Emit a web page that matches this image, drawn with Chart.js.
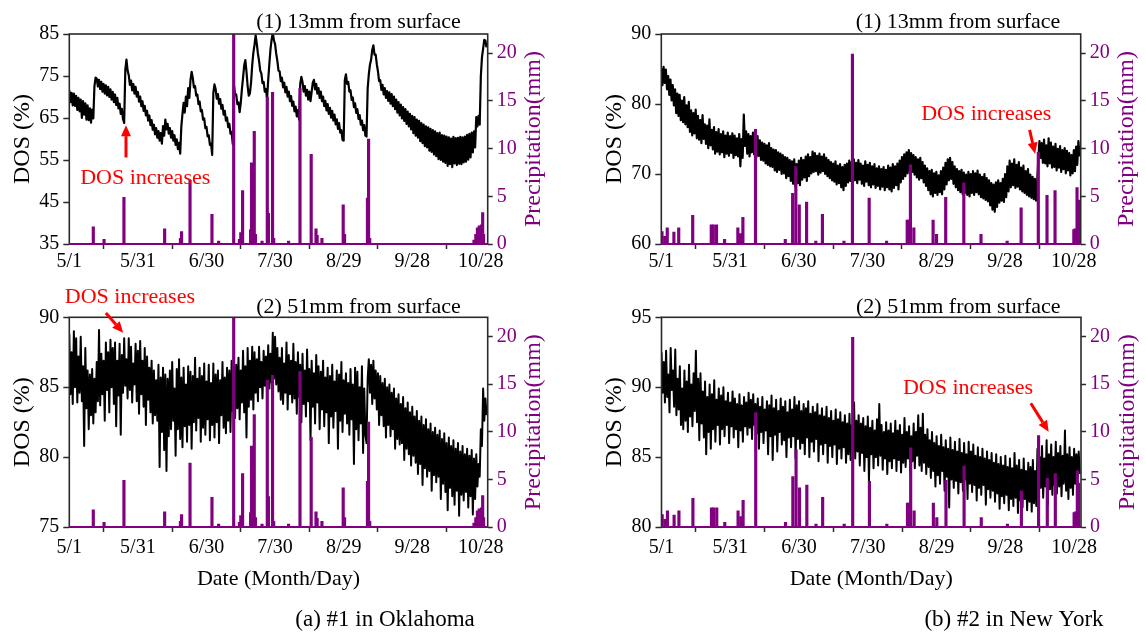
<!DOCTYPE html>
<html>
<head>
<meta charset="utf-8">
<script src="https://cdn.jsdelivr.net/npm/chart.js@4.4.1/dist/chart.umd.min.js"></script>
<style>
  html, body { margin: 0; padding: 0; background: #fff; }
  #fig { position: relative; width: 1146px; height: 640px; overflow: hidden; background: #fff; }
  #fig canvas { position: absolute; }
</style>
</head>
<body>
<div id="fig">
  <canvas id="okTop" width="573" height="282" style="left:0;top:0"></canvas>
  <canvas id="nyTop" width="554" height="282" style="left:592px;top:0"></canvas>
  <canvas id="okBot" width="573" height="358" style="left:0;top:282px"></canvas>
  <canvas id="nyBot" width="554" height="358" style="left:592px;top:282px"></canvas>
</div>
<script>
// Days counted from May 1; x-axis ticks every 30 days
const dayTicks = [0, 30, 60, 90, 120, 150, 180];
const dayTickLabels = ['5/1', '5/31', '6/30', '7/30', '8/29', '9/28', '10/28'];
const DAY_MAX = 183;

// Degree of saturation is logged twice per day (daily high, daily low)
const READINGS_PER_DAY = 2;

// Oklahoma site, 13 mm depth
const okDos13 = [
71.6,68.8, 71.0,68.0, 70.8,67.9, 70.3,66.9, 69.8,66.6, 69.4,65.0, 69.0,65.8, 68.5,64.6, 68.0,64.5, 67.3,63.9,
67.0,64.9, 72.6,74.6, 74.4,72.5, 74.1,71.9, 73.6,71.3, 73.1,70.8, 72.8,70.4, 72.4,70.0, 71.8,69.4, 71.2,68.8,
70.6,68.1, 69.8,67.3, 68.4,66.0, 67.2,64.7, 63.8,76.5, 78.9,76.3, 75.2,72.9, 73.9,71.6, 73.1,70.8, 72.4,70.1,
71.2,68.9, 70.1,67.8, 69.0,66.7, 67.9,65.6, 66.7,64.4, 65.6,63.3, 64.5,62.2, 63.4,61.1, 62.6,60.3, 61.9,59.6,
61.4,58.9, 63.1,60.8, 64.6,62.3, 63.6,61.3, 62.6,60.3, 61.9,59.6, 60.9,58.6, 59.9,57.6, 59.1,56.5, 63.0,66.0,
68.6,66.3, 70.1,67.8, 72.1,69.8, 74.0,76.0, 74.6,72.3, 72.6,70.3, 70.6,68.3, 68.9,66.6, 66.9,64.6, 64.9,62.6,
62.9,60.6, 60.9,58.6, 58.9,56.2, 71.0,73.0, 71.9,69.6, 70.7,68.4, 69.5,67.2, 68.1,65.8, 66.7,64.4, 65.1,62.8,
63.6,61.3, 61.6,58.8, 72.9,70.5, 70.6,68.3, 68.7,66.4, 68.6,71.9, 74.6,77.5, 78.8,76.0, 72.6,70.3, 70.9,73.4,
77.6,80.5, 82.4,84.7, 82.7,80.3, 78.6,76.3, 75.6,73.3, 73.6,71.3, 71.9,69.6, 74.1,77.9, 81.4,83.7, 85.3,83.5,
82.6,80.3, 78.6,76.3, 76.1,73.8, 74.6,72.3, 73.4,71.1, 72.4,70.1, 71.3,69.0, 70.2,67.9, 68.9,66.6, 67.7,65.4,
66.9,64.6, 73.1,74.8, 73.6,71.3, 72.6,70.3, 71.7,69.4, 71.3,69.0, 71.2,73.4, 74.1,71.8, 73.1,70.8, 72.1,69.8,
71.3,69.0, 70.1,67.8, 69.1,66.8, 68.3,66.0, 67.4,65.1, 66.7,64.4, 65.8,63.5, 64.7,62.4, 63.8,61.5, 62.1,59.8,
59.6,74.0, 75.4,73.1, 73.6,71.3, 71.6,69.3, 69.9,67.6, 68.5,66.2, 67.1,64.8, 65.7,63.4, 64.4,62.1, 63.3,60.8,
60.6,72.0, 75.4,77.7, 78.9,81.2, 82.3,80.1, 80.1,77.8, 76.1,73.8, 74.0,71.7, 72.9,70.6, 72.1,69.8, 71.4,69.1,
71.1,68.4, 70.7,67.8, 70.1,67.1, 69.4,66.3, 68.8,65.6, 68.2,64.9, 67.6,64.3, 67.1,63.6, 66.5,63.0, 66.0,62.3,
65.5,61.4, 65.2,60.8, 64.6,60.3, 64.3,59.5, 63.8,59.0, 63.4,58.3, 63.0,58.0, 62.8,57.2, 62.4,56.9, 62.1,56.3,
61.8,55.9, 61.4,55.2, 61.5,55.0, 60.9,54.6, 60.8,54.3, 60.6,53.6, 60.4,54.0, 60.1,53.3, 60.5,54.2, 60.2,53.8,
60.3,54.1, 60.5,54.0, 60.4,54.4, 60.6,54.6, 61.0,55.1, 61.2,55.6, 61.5,56.8, 61.8,58.0, 65.2,63.0, 65.5,63.4,
75.0,79.5, 81.5,83.6, 83.4,81.8
];

// Oklahoma site, 51 mm depth
const okDos51 = [
88.8,84.5, 87.5,83.8, 89.0,85.0, 88.5,83.9, 87.2,84.6, 88.6,84.0, 86.5,80.8, 87.8,83.5, 86.2,82.0, 85.9,83.0,
86.3,82.4, 85.6,83.2, 86.8,84.0, 89.1,83.7, 87.4,84.5, 86.9,82.6, 88.2,84.8, 87.5,83.2, 88.4,85.0, 87.8,83.8,
88.2,82.2, 86.9,84.4, 88.1,81.6, 87.3,84.6, 88.5,85.1, 87.0,84.2, 88.5,84.8, 87.9,83.9, 86.7,85.2, 88.1,84.0,
87.6,83.1, 88.3,84.5, 86.9,83.6, 87.8,82.3, 87.2,84.1, 86.4,83.2, 86.9,82.4, 86.2,83.0, 85.5,82.6, 86.6,79.3,
85.7,81.8, 86.4,80.5, 85.9,79.0, 85.6,81.5, 86.2,82.0, 86.8,82.6, 84.9,80.1, 86.3,82.0, 87.0,81.3, 85.7,80.7,
86.4,82.2, 85.2,81.1, 86.5,82.3, 86.1,80.6, 85.8,82.5, 87.1,81.9, 85.6,82.8, 86.4,81.1, 85.8,82.1, 86.7,81.6,
85.4,82.7, 86.6,81.2, 85.3,82.3, 86.7,81.4, 85.9,82.5, 86.2,81.0, 85.5,83.0, 86.8,82.1, 85.7,81.7, 86.4,82.6,
86.2,81.8, 86.9,83.3, 85.8,82.8, 86.6,83.5, 87.1,82.7, 86.2,83.9, 87.6,83.2, 86.5,81.4, 87.8,83.6, 86.9,84.1,
87.9,83.4, 87.5,84.6, 87.0,84.0, 87.9,85.0, 86.8,84.2, 87.6,85.1, 87.2,84.4, 88.0,84.9, 87.4,85.3, 88.9,85.6,
88.6,85.2, 87.8,84.7, 87.1,84.1, 87.8,83.8, 86.7,84.6, 88.2,83.4, 87.3,84.5, 86.9,83.9, 88.1,84.2, 86.8,83.1,
87.5,84.3, 86.6,82.5, 87.4,83.8, 86.2,82.9, 87.7,84.0, 86.3,81.2, 86.9,83.6, 86.0,82.4, 87.3,83.9, 86.5,82.0,
86.1,83.4, 86.9,82.2, 85.7,83.2, 86.4,81.0, 85.8,82.9, 86.6,82.1, 85.4,83.3, 86.2,80.6, 85.9,82.6, 86.8,81.8,
85.5,83.1, 86.0,82.4, 85.3,81.6, 86.3,82.7, 85.2,79.5, 86.4,82.0, 86.1,81.2, 85.0,82.4, 86.5,80.3, 84.9,81.6,
81.0,85.6, 87.0,84.6, 86.6,83.8, 86.9,84.2, 86.2,83.4, 86.0,82.3, 85.8,83.0, 85.3,82.2, 85.6,81.4, 85.0,82.3,
85.2,81.5, 84.6,82.0, 84.9,80.6, 84.2,81.3, 84.5,80.9, 83.8,81.0, 84.3,79.8, 83.5,80.6, 83.9,80.2, 83.2,79.4,
83.6,80.1, 82.9,79.6, 83.3,78.8, 82.6,79.5, 82.9,78.0, 82.3,79.2, 82.7,78.6, 82.0,79.0, 82.4,77.6, 81.8,78.7,
82.1,78.2, 81.6,78.6, 81.9,77.0, 81.3,78.1, 81.7,77.5, 81.0,76.2, 81.4,77.8, 80.8,77.2, 81.2,76.6, 80.6,77.6,
81.0,75.8, 80.4,77.3, 80.8,76.9, 80.2,77.5, 80.6,76.4, 80.1,77.2, 80.5,75.9, 79.9,77.0, 80.2,77.9, 79.5,78.6,
82.0,80.8, 84.9,82.6, 84.2,83.0
];

// New York site, 13 mm depth
const nyDos13 = [
85.1,82.7, 85.3,83.0, 84.9,82.1, 84.0,81.3, 83.5,80.5, 82.7,79.8, 82.1,78.7, 81.5,78.3, 81.3,77.7, 80.5,77.4,
81.0,77.1, 79.8,76.7, 80.3,76.0, 79.1,75.5, 78.7,75.8, 79.2,75.1, 78.3,74.9, 77.7,74.4, 78.4,75.0, 77.1,74.3,
76.9,73.7, 77.8,74.1, 76.3,73.5, 76.7,72.9, 76.0,73.2, 76.4,72.8, 75.7,73.1, 76.1,72.4, 75.5,72.9, 75.9,72.6,
75.4,73.0, 75.8,72.3, 75.5,72.7, 75.1,72.5, 75.7,71.1, 75.0,72.3, 78.5,74.0, 76.1,72.9, 75.7,72.5, 75.4,73.1,
75.9,72.8, 75.2,72.4, 75.4,72.6, 74.8,72.0, 74.5,71.9, 74.3,71.5, 74.1,71.3, 74.4,71.1, 73.7,71.0, 73.5,70.5,
73.4,70.3, 73.1,70.6, 72.9,70.0, 72.7,70.1, 72.4,69.4, 72.3,69.7, 72.0,69.0, 71.8,68.6, 72.1,68.2, 71.4,68.7,
71.9,68.4, 72.3,69.2, 72.0,69.5, 72.5,69.0, 72.8,69.7, 72.4,70.1, 73.2,70.3, 73.0,70.4, 72.6,69.9, 72.9,70.2,
72.5,70.4, 72.8,70.0, 72.3,69.7, 72.0,69.4, 71.7,69.1, 71.5,68.9, 71.8,68.5, 71.2,68.7, 71.4,68.1, 71.0,67.7,
71.3,68.3, 71.5,68.8, 71.9,69.0, 71.7,68.5, 72.1,69.1, 71.6,68.7, 72.0,69.2, 71.5,68.6, 71.2,68.3, 71.8,68.9,
71.3,68.4, 71.6,68.1, 71.1,68.5, 71.4,68.0, 70.8,68.3, 71.1,67.8, 70.7,68.2, 71.0,67.7, 70.6,68.1, 71.2,67.8,
70.9,67.5, 71.4,68.0, 71.1,68.4, 71.5,67.8, 71.9,68.8, 72.4,69.3, 72.8,69.7, 73.1,70.1, 73.4,70.4, 73.0,70.3,
72.7,69.9, 72.4,69.5, 72.1,69.2, 72.3,69.4, 71.7,68.8, 71.2,68.3, 70.8,67.7, 70.4,67.1, 70.6,66.8, 70.1,67.3,
70.3,67.0, 69.8,67.4, 70.4,67.1, 70.9,67.8, 71.6,68.5, 72.1,69.1, 72.3,69.3, 71.7,68.6, 71.1,68.1, 70.7,67.7,
70.4,67.4, 70.6,67.1, 70.2,67.3, 69.9,67.0, 70.3,66.8, 70.0,67.3, 70.4,67.0, 70.1,67.4, 70.5,67.1, 69.9,66.7,
69.6,66.5, 70.0,66.3, 69.4,66.1, 69.1,65.5, 68.7,64.9, 68.5,64.6, 68.8,65.3, 69.1,65.9, 68.7,66.2, 69.3,66.0,
70.0,66.7, 71.1,67.5, 71.9,68.1, 71.5,68.4, 72.1,68.0, 71.3,68.2, 71.7,67.8, 70.9,67.5, 71.2,67.3, 70.4,67.0,
70.7,66.8, 69.9,66.6, 69.6,66.4, 69.3,66.2, 68.9,72.0, 74.7,72.3, 74.4,71.6, 74.9,71.5, 74.1,71.1, 75.1,71.5,
74.5,70.9, 73.9,71.0, 74.3,70.5, 73.6,70.9, 74.0,70.3, 73.4,70.7, 73.7,70.1, 73.3,70.5, 73.0,69.8, 72.7,70.1,
73.4,70.4, 73.9,71.3, 74.7,72.5
];

// New York site, 51 mm depth
const nyDos51 = [
92.5,89.6, 91.8,88.9, 92.6,89.3, 90.9,88.2, 92.8,89.8, 91.2,88.6, 92.7,88.0, 90.6,88.4, 91.5,87.3, 89.9,87.0,
91.2,87.6, 90.4,86.8, 91.6,87.9, 90.2,87.2, 91.0,88.3, 92.6,87.5, 90.6,86.2, 91.0,87.4, 89.7,86.4, 90.4,85.2,
89.3,86.8, 90.2,85.6, 89.5,87.0, 90.5,86.1, 89.1,87.3, 89.9,85.9, 89.4,87.0, 90.0,86.5, 89.0,87.3, 89.6,86.0,
88.9,87.2, 89.7,86.4, 89.2,87.0, 88.8,85.7, 89.5,86.9, 88.7,86.1, 89.3,87.2, 88.9,86.6, 89.6,87.1, 89.1,86.3,
89.5,87.3, 88.8,86.7, 89.2,85.6, 88.6,86.8, 89.3,86.0, 88.4,86.9, 89.0,85.2, 88.7,86.5, 89.4,84.8, 88.5,86.6,
89.1,85.4, 88.3,86.8, 89.2,85.9, 88.6,86.2, 89.0,85.0, 88.2,86.4, 89.1,85.7, 88.4,86.5, 89.3,84.9, 88.7,86.3,
89.0,85.6, 88.3,86.0, 88.8,85.2, 88.5,86.4, 89.0,85.0, 88.1,86.1, 88.6,85.4, 88.2,86.3, 88.8,84.7, 88.0,85.9,
88.5,85.2, 87.9,86.0, 88.6,84.6, 87.8,85.8, 88.3,85.0, 87.6,85.9, 88.4,84.5, 87.7,85.6, 88.2,84.9, 87.5,85.7,
88.0,84.6, 87.4,85.2, 88.1,84.8, 87.3,85.5, 88.9,84.9, 87.6,85.4, 88.0,84.4, 87.4,85.3, 87.8,84.0, 87.2,85.0,
87.9,83.3, 87.1,85.2, 87.6,84.2, 86.9,85.0, 87.7,84.4, 88.8,85.1, 87.3,84.1, 86.8,84.9, 87.5,83.8, 86.9,84.7,
87.4,84.2, 86.7,84.9, 87.6,84.0, 86.9,84.8, 87.3,83.9, 86.6,84.6, 87.8,84.3, 86.8,84.9, 87.2,83.9, 86.5,84.7,
87.4,84.2, 86.8,85.1, 88.0,84.4, 87.1,84.0, 88.1,84.6, 86.6,83.8, 87.0,84.3, 86.2,83.5, 86.8,84.0, 86.0,82.9,
86.5,83.7, 85.8,83.1, 86.6,84.0, 85.7,82.6, 86.2,83.6, 85.6,81.4, 86.4,83.4, 85.5,82.8, 86.1,83.3, 85.4,82.4,
86.3,83.2, 85.3,82.6, 86.0,83.4, 85.2,82.0, 86.1,83.1, 85.4,82.5, 85.9,83.0, 85.1,81.9, 85.7,82.8, 85.0,82.3,
85.6,83.0, 84.9,81.6, 85.4,82.7, 84.8,82.1, 85.3,82.6, 84.6,81.8, 85.2,82.4, 84.5,81.3, 85.0,82.2, 84.4,81.7,
85.1,82.3, 84.3,81.2, 84.9,82.0, 84.2,81.5, 85.3,82.1, 84.4,81.0, 84.8,81.9, 84.1,81.4, 84.9,82.0, 84.0,81.2,
84.6,81.8, 84.3,81.1, 84.8,81.7, 84.0,81.5, 85.6,82.3, 85.0,82.8, 85.8,82.1, 84.9,82.9, 86.2,81.6, 85.2,82.7,
85.9,82.3, 85.0,83.0, 86.1,82.4, 85.3,82.9, 85.8,82.2, 85.1,83.1, 86.9,82.6, 85.2,82.0, 85.7,82.8, 85.0,82.3,
85.6,83.1, 85.2,83.6, 85.4,83.8
];

// Rain events (day after May 1, amount in mm)
const okRainDay = [10.5, 15.2, 23.9, 41.7, 48.6, 49.1, 52.8, 62.4, 65.3, 71.9, 74.4, 75.0, 75.8, 79.3, 79.7, 80.3, 80.9, 81.4,
  84.3, 86.6, 87.1, 88.9, 89.4, 95.9, 100.9, 105.8, 107.9, 108.4, 110.5, 119.8, 120.4, 130.4, 130.9, 131.4,
  177.0, 177.8, 178.5, 179.3, 179.9, 180.3, 180.8, 181.2];
const okRainMm = [1.8, 0.5, 4.9, 1.6, 0.6, 1.3, 6.7, 3.1, 0.3, 22.0, 0.5, 1.2, 5.6, 1.5, 8.5, 4.0, 11.8, 1.0,
  0.3, 15.4, 3.2, 15.9, 0.6, 0.3, 16.3, 9.4, 1.6, 0.9, 0.6, 4.1, 1.0, 4.8, 11.0, 0.6,
  0.4, 1.0, 1.7, 1.9, 1.2, 2.0, 3.3, 1.0];

const nyRainDay = [0.3, 1.5, 2.6, 5.5, 7.6, 13.7, 21.8, 22.7, 24.1, 27.6, 33.4, 34.6, 35.6, 41.1, 54.1, 57.3, 58.7, 60.2,
  63.4, 67.4, 70.3, 79.7, 83.4, 90.7, 98.3, 107.3, 107.8, 108.7, 110.2, 118.6, 120.1, 124.1, 132.0, 139.5,
  150.9, 157.0, 164.5, 168.3, 171.8, 180.0, 180.6, 181.4, 182.0];
const nyRainMm = [1.3, 0.8, 1.7, 1.25, 1.7, 3.0, 2.0, 2.0, 2.0, 0.5, 1.7, 1.1, 2.8, 12.0, 0.5, 5.3, 8.1, 4.1,
  4.4, 0.3, 3.1, 0.3, 19.9, 4.8, 0.3, 2.5, 2.5, 8.3, 1.7, 2.5, 1.0, 4.9, 6.4, 1.0,
  0.3, 3.8, 9.6, 5.1, 5.6, 1.5, 1.6, 5.9, 4.6];

// Axis ticks
const okTopDosTicks = [35, 45, 55, 65, 75, 85];
const nyTopDosTicks = [60, 70, 80, 90];
const okBotDosTicks = [75, 80, 85, 90];
const nyBotDosTicks = [80, 85, 90, 95];
const rainTicks = [0, 5, 10, 15, 20];
const RAIN_MAX = 22;

const SERIF = '"Liberation Serif", "Times New Roman", serif';
const PURPLE = '#800080';
const FRAME = '#2a2a2a';
const RED = '#ff0000';

function dosPoints(values) {
  return values.map((v, i) => ({ x: i / READINGS_PER_DAY, y: v }));
}
function rainPoints(days, mm) {
  return days.map((d, i) => ({ x: d, y: mm[i] }));
}

function verticalText(ctx, text, x, y, color, size) {
  ctx.save();
  ctx.translate(x, y);
  ctx.rotate(-Math.PI / 2);
  ctx.font = `${size}px ${SERIF}`;
  ctx.fillStyle = color;
  ctx.textAlign = 'center';
  ctx.textBaseline = 'middle';
  ctx.fillText(text, 0, 0);
  ctx.restore();
}

function drawArrow(ctx, x1, y1, x2, y2) {
  const ang = Math.atan2(y2 - y1, x2 - x1);
  const headLen = 11, headHalf = 5;
  const bx = x2 - headLen * Math.cos(ang), by = y2 - headLen * Math.sin(ang);
  ctx.strokeStyle = RED;
  ctx.lineWidth = 3;
  ctx.beginPath();
  ctx.moveTo(x1, y1);
  ctx.lineTo(bx, by);
  ctx.stroke();
  ctx.fillStyle = RED;
  ctx.beginPath();
  ctx.moveTo(x2, y2);
  ctx.lineTo(bx + headHalf * Math.sin(ang), by - headHalf * Math.cos(ang));
  ctx.lineTo(bx - headHalf * Math.sin(ang), by + headHalf * Math.cos(ang));
  ctx.closePath();
  ctx.fill();
}

// Frame, zero-rain line, panel titles, axis titles and the "DOS increases" notes
const panelDecor = {
  id: 'panelDecor',
  afterDraw(chart, args, o) {
    const { ctx, chartArea: a, scales } = chart;
    ctx.save();
    ctx.strokeStyle = FRAME;
    ctx.lineWidth = 1.6;
    ctx.strokeRect(a.left, a.top, a.right - a.left, a.bottom - a.top);

    const y0 = scales.y2.getPixelForValue(0);
    ctx.strokeStyle = PURPLE;
    ctx.lineWidth = 2;
    ctx.beginPath();
    ctx.moveTo(a.left, y0);
    ctx.lineTo(a.right, y0);
    ctx.stroke();

    ctx.fillStyle = '#000';
    ctx.textAlign = 'center';
    ctx.textBaseline = 'alphabetic';
    ctx.font = `22px ${SERIF}`;
    ctx.fillText(o.title, o.titleX, o.titleY);
    if (o.xTitle) {
      ctx.fillText(o.xTitle, (a.left + a.right) / 2, a.bottom + 57.5);
    }
    if (o.caption) {
      ctx.font = `23px ${SERIF}`;
      ctx.fillText(o.caption, o.captionX, a.bottom + 99);
    }

    const midY = (a.top + a.bottom) / 2;
    verticalText(ctx, 'DOS (%)', a.left - 47, midY, '#000', 24);
    verticalText(ctx, 'Precipitation(mm)', a.right + 46.5, midY, PURPLE, 24);

    const n = o.note;
    if (n) {
      const px = d => scales.x.getPixelForValue(d);
      const py = v => scales.y.getPixelForValue(v);
      ctx.font = `22px ${SERIF}`;
      ctx.fillStyle = RED;
      ctx.textAlign = 'center';
      ctx.textBaseline = 'middle';
      ctx.fillText(n.text, px(n.textDay), py(n.textDos));
      drawArrow(ctx, px(n.tailDay), py(n.tailDos), px(n.tipDay), py(n.tipDos));
    }
    ctx.restore();
  }
};

function makeChart(p) {
  const tickFont = { family: SERIF, size: 20 };
  return new Chart(document.getElementById(p.canvas), {
    type: 'line',
    data: {
      datasets: [
        {
          type: 'bar',
          label: 'Precipitation',
          data: rainPoints(p.rainDays, p.rainMm),
          xAxisID: 'x',
          yAxisID: 'y2',
          backgroundColor: PURPLE,
          borderWidth: 0,
          barThickness: 2.5,
          grouped: false,
          order: 0
        },
        {
          type: 'line',
          label: 'DOS',
          data: dosPoints(p.dos),
          xAxisID: 'x',
          yAxisID: 'y',
          borderColor: '#000',
          borderWidth: p.lineW,
          borderJoinStyle: 'round',
          pointRadius: 0,
          tension: 0,
          order: 1
        }
      ]
    },
    options: {
      responsive: false,
      animation: false,
      devicePixelRatio: 1,
      events: [],
      layout: { padding: { top: p.padTop, left: 0, right: 0, bottom: 0 } },
      plugins: {
        legend: { display: false },
        tooltip: { enabled: false },
        panelDecor: {
          title: p.title, titleX: p.titleX, titleY: p.titleY,
          xTitle: p.xTitle, caption: p.caption, captionX: p.captionX,
          note: p.note
        }
      },
      scales: {
        x: {
          type: 'linear',
          position: 'bottom',
          min: 0,
          max: DAY_MAX,
          offset: false,
          afterBuildTicks: s => { s.ticks = dayTicks.map(v => ({ value: v })); },
          afterFit: s => { s.height = p.xH; },
          border: { display: false },
          grid: { display: true, drawOnChartArea: false, drawTicks: true, tickLength: 5, tickColor: FRAME, tickWidth: 1.5 },
          ticks: {
            autoSkip: false, maxRotation: 0, padding: p.xPad, color: '#000', font: tickFont,
            callback: (v, i) => dayTickLabels[i]
          }
        },
        y: {
          type: 'linear',
          position: 'left',
          min: p.dosTicks[0],
          max: p.dosTicks[p.dosTicks.length - 1],
          afterBuildTicks: s => { s.ticks = p.dosTicks.map(v => ({ value: v })); },
          afterFit: s => { s.width = p.leftW; },
          border: { display: false },
          grid: { display: true, drawOnChartArea: false, drawTicks: true, tickLength: 6, tickColor: FRAME, tickWidth: 1.5 },
          ticks: { padding: 4, color: '#000', font: tickFont }
        },
        y2: {
          type: 'linear',
          position: 'right',
          min: 0,
          max: RAIN_MAX,
          afterBuildTicks: s => { s.ticks = rainTicks.map(v => ({ value: v })); },
          afterFit: s => { s.width = p.rightW; },
          border: { display: false },
          grid: { display: true, drawOnChartArea: false, drawTicks: true, tickLength: 5, tickColor: FRAME, tickWidth: 1.5 },
          ticks: { padding: 4, color: PURPLE, font: tickFont }
        }
      }
    },
    plugins: [panelDecor]
  });
}

makeChart({
  canvas: 'okTop', dos: okDos13, rainDays: okRainDay, rainMm: okRainMm, dosTicks: okTopDosTicks, lineW: 2.2,
  padTop: 34, leftW: 69.3, rightW: 573 - 487.7, xH: 282 - 244, xPad: 1,
  title: '(1) 13mm from surface', titleX: 358.5, titleY: 28,
  note: { text: 'DOS increases', textDay: 33.2, textDos: 50.7, tailDay: 24.8, tailDos: 55.6, tipDay: 24.8, tipDos: 63.3 }
});
makeChart({
  canvas: 'nyTop', dos: nyDos13, rainDays: nyRainDay, rainMm: nyRainMm, dosTicks: nyTopDosTicks, lineW: 2.2,
  padTop: 34, leftW: 69.3, rightW: 554 - 488.7, xH: 282 - 244, xPad: 1,
  title: '(1) 13mm from surface', titleX: 366, titleY: 28,
  note: { text: 'DOS increases', textDay: 141.8, textDos: 78.6, tailDay: 160.7, tailDos: 76.3, tipDay: 163.1, tipDos: 72.9 }
});
makeChart({
  canvas: 'okBot', dos: okDos51, rainDays: okRainDay, rainMm: okRainMm, dosTicks: okBotDosTicks, lineW: 2,
  padTop: 35.3, leftW: 69.3, rightW: 573 - 487.7, xH: 358 - 245, xPad: 4,
  title: '(2) 51mm from surface', titleX: 358.5, titleY: 31,
  xTitle: 'Date (Month/Day)', caption: '(a) #1 in Oklahoma', captionX: 385,
  note: { text: 'DOS increases', textDay: 26.5, textDos: 91.45, tailDay: 16.0, tailDos: 90.3, tipDay: 23.6, tipDos: 88.9 }
});
makeChart({
  canvas: 'nyBot', dos: nyDos51, rainDays: nyRainDay, rainMm: nyRainMm, dosTicks: nyBotDosTicks, lineW: 2,
  padTop: 35.3, leftW: 69.5, rightW: 554 - 489, xH: 358 - 245, xPad: 4,
  title: '(2) 51mm from surface', titleX: 366.3, titleY: 31,
  xTitle: 'Date (Month/Day)', caption: '(b) #2 in New York', captionX: 422,
  note: { text: 'DOS increases', textDay: 133.7, textDos: 89.94, tailDay: 161.1, tailDos: 88.85, tipDay: 168.9, tipDos: 86.82 }
});
</script>
</body>
</html>
